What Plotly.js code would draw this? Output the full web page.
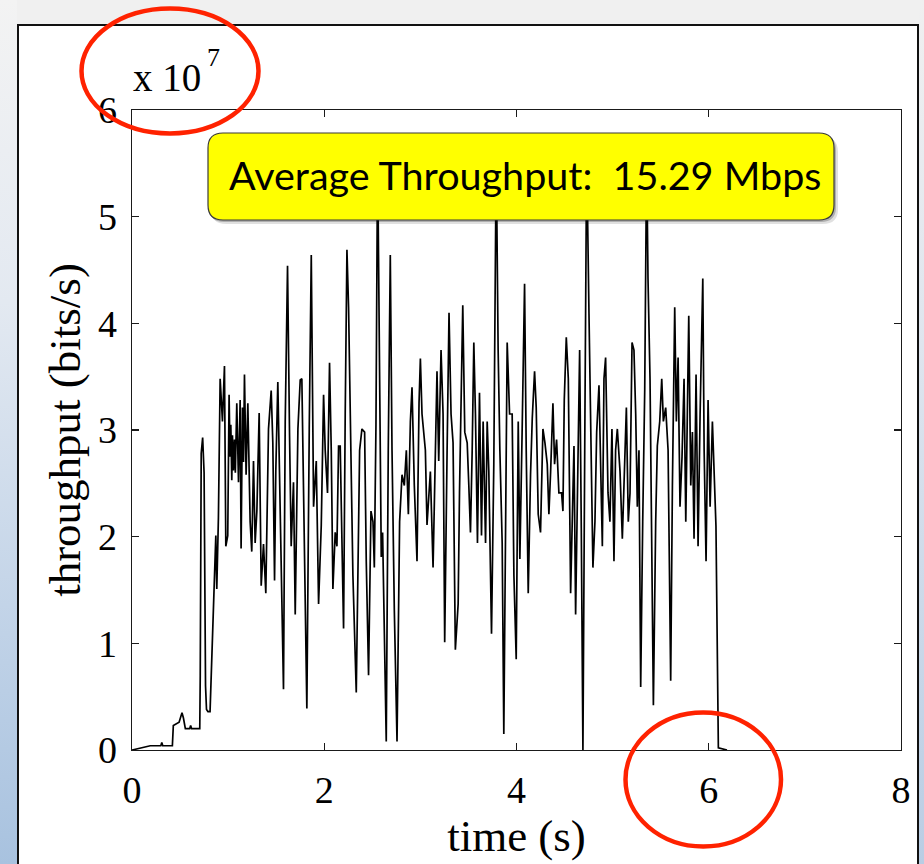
<!DOCTYPE html>
<html>
<head>
<meta charset="utf-8">
<script src="https://cdn.plot.ly/plotly-3.0.1.min.js"></script>
<style>
  html, body { margin:0; padding:0; width:924px; height:864px; overflow:hidden; background:#f0f0f0; }
  #leftstrip { position:absolute; left:0; top:0; width:17px; height:864px;
    background:linear-gradient(to bottom, #f3f3f3 0%, #e3e9f1 35%, #c3d4e8 70%, #a8c2df 100%); }
  #rightstrip { position:absolute; left:919px; top:0; width:5px; height:864px;
    background:linear-gradient(to bottom, #f0f0f0 0%, #dfe5ee 40%, #b9cde4 100%); }
  #panel { position:absolute; left:17px; top:24px; width:898px; height:860px;
    background:#ffffff; border-left:2px solid #111; border-top:2px solid #111; border-right:2px solid #111; }
  #chart { position:absolute; left:0; top:0; width:924px; height:864px; }
</style>
</head>
<body>
<div id="leftstrip"></div>
<div id="rightstrip"></div>
<div id="panel"></div>
<div id="chart"></div>
<script>
// time (s)
const time_s = [
  0, 0.10, 0.19, 0.30, 0.31, 0.32, 0.42, 0.43, 0.49, 0.52, 0.535, 0.555, 0.60, 0.61, 0.62, 0.705,
  0.71, 0.72, 0.735, 0.75, 0.765, 0.775, 0.79, 0.812, 0.83, 0.847, 0.872, 0.882, 0.899,
  0.917, 0.941, 0.962, 0.976, 0.996, 1.010, 1.020, 1.028, 1.038, 1.045, 1.055, 1.066, 1.075, 1.082, 1.090,
  1.108, 1.125, 1.135, 1.149, 1.160, 1.170, 1.187, 1.205, 1.229, 1.246, 1.264, 1.281, 1.299,
  1.323, 1.344, 1.368, 1.392, 1.420, 1.448, 1.465, 1.483, 1.496, 1.517, 1.542, 1.576, 1.594,
  1.618, 1.639, 1.656, 1.680, 1.698, 1.726, 1.750, 1.767, 1.785, 1.819, 1.844, 1.865, 1.889,
  1.917, 1.941, 1.969, 1.993,
  2.010, 2.034, 2.055, 2.073, 2.090, 2.114, 2.132, 2.149, 2.166, 2.187, 2.201, 2.218, 2.236,
  2.253, 2.277, 2.298, 2.333, 2.368, 2.392, 2.420, 2.437, 2.461, 2.486, 2.507, 2.521, 2.538,
  2.555, 2.576, 2.593, 2.607, 2.645, 2.666, 2.687, 2.705, 2.729, 2.757, 2.784, 2.809, 2.833,
  2.854, 2.875, 2.896, 2.913, 2.937, 2.965, 2.986, 3.000, 3.017, 3.052, 3.069, 3.104, 3.132,
  3.156, 3.173, 3.191, 3.215, 3.236, 3.253, 3.278, 3.298, 3.319, 3.340, 3.364,
  3.393, 3.407, 3.421, 3.441, 3.462, 3.487, 3.504, 3.521, 3.539, 3.556, 3.573, 3.594, 3.615,
  3.636, 3.653, 3.678, 3.695, 3.712, 3.740, 3.764, 3.789, 3.809, 3.827, 3.851, 3.868, 3.886,
  3.903, 3.928, 3.955, 3.973, 3.997, 4.018, 4.035, 4.059, 4.084, 4.101, 4.122, 4.146, 4.164,
  4.188, 4.205, 4.226, 4.250, 4.275, 4.296, 4.320, 4.337, 4.355, 4.379, 4.396, 4.417, 4.441,
  4.469, 4.483, 4.497, 4.518, 4.539, 4.563, 4.580, 4.598, 4.615, 4.632, 4.657, 4.674, 4.691,
  4.712, 4.730, 4.754, 4.771, 4.795, 4.816, 4.834, 4.858, 4.875, 4.893, 4.910, 4.927, 4.952,
  4.972, 4.993, 5.014, 5.031, 5.049, 5.077, 5.101, 5.118, 5.143, 5.163, 5.181, 5.202, 5.222,
  5.240, 5.257, 5.274, 5.292, 5.313, 5.334, 5.354, 5.368, 5.389, 5.406, 5.424, 5.448, 5.465,
  5.490, 5.511, 5.528, 5.552, 5.577, 5.604, 5.622, 5.646, 5.663, 5.681, 5.701, 5.722, 5.743,
  5.761, 5.792, 5.813, 5.830, 5.847, 5.868, 5.889, 5.910, 5.938, 5.952, 5.972, 5.993, 6.014,
  6.038, 6.063, 6.075, 6.100, 6.190
];
// throughput in units of 10^7 bits/s
const throughput_e7 = [
  0, 0.02, 0.04, 0.04, 0.07, 0.04, 0.04, 0.23, 0.26, 0.35, 0.30, 0.20, 0.20, 0.23, 0.20, 0.20,
  0.70, 2.78, 2.93, 2.60, 0.60, 0.38, 0.36, 0.36, 0.90, 1.47, 2.01, 1.51, 2.18,
  3.48, 3.08, 3.60, 1.91, 2.01, 3.33, 2.75, 3.05, 2.53, 2.95, 2.62, 2.91, 2.60, 3.10, 3.25,
  2.51, 3.28, 1.89, 3.21, 2.70, 3.52, 2.58, 3.25, 2.14, 1.86, 2.71, 1.94, 2.24,
  3.16, 1.54, 1.93, 1.47, 3.01, 3.37, 2.88, 1.59, 2.61, 3.45, 2.34, 0.57, 3.08,
  4.54, 2.95, 1.91, 2.51, 1.27, 3.01, 3.47, 3.48, 2.54, 0.39, 3.01, 4.64, 2.28,
  2.71, 1.37, 2.11, 3.33,
  2.81, 2.41, 3.63, 2.81, 1.51, 2.04, 1.91, 2.85, 2.85, 1.81, 1.14, 3.15, 4.69,
  4.15, 2.98, 1.64, 0.54, 2.81, 3.01, 2.98, 1.77, 0.70, 2.24, 2.14, 1.71, 3.05,
  5.60, 3.41, 1.81, 2.04, 0.08, 2.81, 4.64, 2.81, 1.31, 0.08, 2.14, 2.58, 2.48,
  2.81, 2.21, 3.08, 3.40, 2.48, 1.77, 3.25, 3.67, 3.15, 2.81, 2.11, 2.61, 1.71,
  2.81, 3.55, 2.71, 3.75, 3.15, 1.01, 2.81, 4.10, 3.15, 2.88, 0.94,
  1.37, 2.41, 3.15, 4.17, 2.98, 2.88, 2.48, 2.04, 2.81, 3.82, 3.15, 1.94, 3.35,
  2.01, 3.08, 1.94, 3.08, 2.61, 1.09, 2.68, 5.60, 3.75, 2.81, 1.94, 0.15, 1.94,
  3.82, 3.15, 3.15, 1.64, 0.85, 3.08, 1.79, 3.01, 4.37, 2.81, 1.47, 2.58, 3.11,
  3.55, 3.21, 2.21, 2.04, 3.01, 2.88, 2.68, 2.21, 2.61, 3.25, 2.68, 2.91, 2.41,
  2.41, 2.24, 3.28, 3.87, 3.48, 1.47, 2.21, 2.85, 1.27, 2.41, 3.75, 2.08, 0.00,
  3.15, 5.60, 4.09, 2.95, 1.71, 2.14, 2.98, 3.42, 2.48, 1.91, 3.48, 3.68, 2.41,
  2.14, 3.01, 1.77, 2.81, 3.01, 2.61, 1.98, 2.48, 3.21, 2.14, 2.41, 3.82, 3.75,
  3.15, 2.28, 2.81, 0.59, 2.14, 3.38, 5.60, 4.42, 3.48, 2.21, 0.42, 2.14, 2.85,
  3.08, 3.48, 3.08, 3.21, 2.81, 0.65, 2.48, 4.15, 3.08, 3.68, 2.28, 2.75, 3.48,
  2.14, 4.07, 2.48, 2.98, 1.98, 3.52, 1.91, 3.15, 4.42, 2.81, 1.77, 3.28, 2.28,
  3.08, 2.31, 2.10, 0.02, 0.00
];
const xTicks = [0, 2, 4, 6, 8];
const yTicks = [0, 1, 2, 3, 4, 5, 6];
const xTitle = 'time (s)';
const yTitle = 'throughput (bits/s)';
const scaleText = 'x 10';
const scaleExp = '7';
const noteText = 'Average Throughput:\u00a0\u00a015.29 Mbps';

// layout geometry (pixels)
const L = 132, T = 110, W = 769, H = 640;
const X = p => (p - L) / W;
const Y = p => (T + H - p) / H;
function roundRect(x0, y0, x1, y1, r) {
  return `M ${X(x0 + r)},${Y(y0)} L ${X(x1 - r)},${Y(y0)} Q ${X(x1)},${Y(y0)} ${X(x1)},${Y(y0 + r)}` +
         ` L ${X(x1)},${Y(y1 - r)} Q ${X(x1)},${Y(y1)} ${X(x1 - r)},${Y(y1)}` +
         ` L ${X(x0 + r)},${Y(y1)} Q ${X(x0)},${Y(y1)} ${X(x0)},${Y(y1 - r)}` +
         ` L ${X(x0)},${Y(y0 + r)} Q ${X(x0)},${Y(y0)} ${X(x0 + r)},${Y(y0)} Z`;
}
const serif = 'Liberation Serif, Times New Roman, serif';

const trace = {
  x: time_s, y: throughput_e7, type: 'scatter', mode: 'lines',
  line: { color: '#000000', width: 1.7 }, hoverinfo: 'skip', cliponaxis: true
};

const axisCommon = {
  showgrid: false, zeroline: false, showline: true, linecolor: '#1a1a1a', linewidth: 1.3,
  mirror: 'allticks', ticks: 'inside', ticklen: 7, tickwidth: 1.2, tickcolor: '#1a1a1a',
  tickfont: { family: serif, size: 38, color: '#000' }, automargin: false
};

const layout = {
  width: 924, height: 864,
  margin: { l: L, r: 924 - L - W, t: T, b: 864 - T - H },
  paper_bgcolor: 'rgba(0,0,0,0)', plot_bgcolor: '#ffffff',
  showlegend: false,
  xaxis: Object.assign({}, axisCommon, {
    range: [0, 8], tickvals: xTicks, ticktext: xTicks.map(String), ticklabelstandoff: 6,
    title: { text: xTitle, font: { family: serif, size: 45, color: '#000' }, standoff: 0 }
  }),
  yaxis: Object.assign({}, axisCommon, {
    range: [0, 6], tickvals: yTicks, ticktext: yTicks.map(String), ticklabelstandoff: 6,
    title: { text: yTitle, font: { family: serif, size: 45, color: '#000' }, standoff: 3 }
  }),
  shapes: [
    { type: 'path', xref: 'paper', yref: 'paper', layer: 'above',
      path: roundRect(211, 137, 838, 224, 15), fillcolor: 'rgba(0,0,0,0.12)', line: { width: 0 } },
    { type: 'path', xref: 'paper', yref: 'paper', layer: 'above',
      path: roundRect(209, 135, 836, 222, 15), fillcolor: 'rgba(0,0,0,0.22)', line: { width: 0 } },
    { type: 'path', xref: 'paper', yref: 'paper', layer: 'above',
      path: roundRect(208, 133, 834, 220, 15), fillcolor: '#ffff00', line: { color: '#3a3a3a', width: 1.2 } },
    { type: 'circle', xref: 'paper', yref: 'paper', layer: 'above',
      x0: X(81.5), x1: X(258.5), y0: Y(8.5), y1: Y(133.5), line: { color: '#ff2200', width: 4.5 } },
    { type: 'circle', xref: 'paper', yref: 'paper', layer: 'above',
      x0: X(625.5), x1: X(781), y0: Y(712.5), y1: Y(846.5), line: { color: '#ff2200', width: 4.5 } }
  ],
  annotations: [
    { xref: 'paper', yref: 'paper', x: X(525), y: Y(174), xanchor: 'center', yanchor: 'middle',
      text: noteText, showarrow: false, font: { family: 'Lato, Open Sans, sans-serif', size: 39.5, color: '#000' } },
    { xref: 'paper', yref: 'paper', x: X(131), y: Y(78), xanchor: 'left', yanchor: 'middle',
      text: scaleText, showarrow: false, font: { family: serif, size: 39, color: '#000' } },
    { xref: 'paper', yref: 'paper', x: X(205), y: Y(57), xanchor: 'left', yanchor: 'middle',
      text: scaleExp, showarrow: false, font: { family: serif, size: 26, color: '#000' } }
  ]
};

Plotly.newPlot('chart', [trace], layout, { staticPlot: true, displayModeBar: false });
</script>
</body>
</html>
